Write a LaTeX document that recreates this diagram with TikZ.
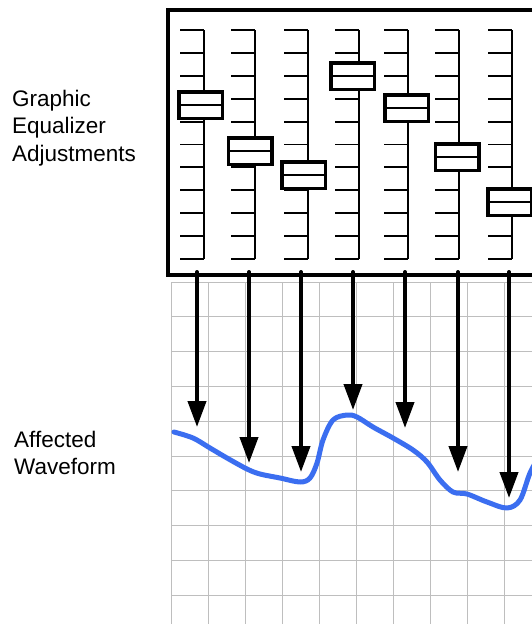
\documentclass[tikz,border=0pt]{standalone}
\usepackage{fontspec}
\newfontfamily\labfont{Liberation Sans}
\newcommand\eqlabfont{\labfont\fontsize{22.5}{27.5}\selectfont\lineskiplimit=-30pt\relax}
\usetikzlibrary{arrows.meta}
\definecolor{wave}{RGB}{59,110,240}
\definecolor{gridc}{RGB}{190,190,190}
\begin{document}
\begin{tikzpicture}[x=1pt,y=-1pt,
  gridline/.style={draw=gridc, line width=1pt},
  frameline/.style={draw=black, line width=3.6pt},
  scaleline/.style={draw=black, line width=1.9pt},
  knob/.style={draw=black, line width=3.5pt, fill=white,
    minimum width=43.5pt, minimum height=26.5pt, inner sep=0pt,
    path picture={\draw[line width=1.4pt] (path picture bounding box.west) -- (path picture bounding box.east);}},
  effect/.style={draw=black, line width=4pt, line cap=round,
    -{Triangle[width=18pt,length=26pt]}},
  wavestyle/.style={draw=wave, line width=5pt, line cap=round, line join=round},
  lab/.style={inner sep=0pt, align=left, text=black, font=\eqlabfont}
]
\useasboundingbox (0,0) rectangle (532,624);
\clip (0,0) rectangle (532,624);
\fill[white] (0,0) rectangle (532,624);

% grid
\foreach \k in {0,...,10} {
  \draw[gridline] (171.7+37*\k,282) -- (171.7+37*\k,630);
}
\foreach \k in {0,...,10} {
  \draw[gridline] (171.7,282+34.8*\k) -- (545,282+34.8*\k);
}

% frame
\draw[frameline] (168,10) rectangle (548,275);

% slider scales
\foreach \lx in {204,255,308,359,408,459,512} {
  \draw[scaleline] (\lx,30) -- (\lx,259);
  \foreach \k in {0,...,10} {
    \draw[scaleline] (\lx-24,30+22.9*\k) -- (\lx,30+22.9*\k);
  }
}

% slider knobs
\node[knob] (s1) at (200.8,105) {};
\node[knob] (s2) at (250,151) {};
\node[knob] (s3) at (303.5,175) {};
\node[knob] (s4) at (352.5,76) {};
\node[knob] (s5) at (406.7,108) {};
\node[knob] (s6) at (457,157) {};
\node[knob] (s7) at (509.5,202) {};

% arrows
\foreach \i/\ax/\tip in {1/197/427, 2/249/463, 3/301/472, 4/353/410, 5/405/428, 6/458/472, 7/509/498} {
  \coordinate (t\i) at (\ax,272);
  \coordinate (e\i) at (\ax,\tip);
  \draw[effect] (t\i) -- (e\i);
}

% waveform
\draw[wavestyle] plot[smooth, tension=0.55] coordinates {
  (174,432) (193,438) (210,448) (227,458) (247,469) (260,474) (280,478)
  (300,482) (310,478) (317,463) (323,440) (333,420) (347,415) (357,417)
  (373,427) (393,438) (413,450) (427,462) (440,480) (453,492) (467,494)
  (487,502) (507,508) (520,500) (530,473) (540,455)};

% labels (base anchor = baseline of the last line)
\node[lab, anchor=base west] (geq) at (12,161) {Graphic\\Equalizer\\Adjustments};
\node[lab, anchor=base west] (wf) at (14,474.5) {Affected\\Waveform};
\end{tikzpicture}
\end{document}
